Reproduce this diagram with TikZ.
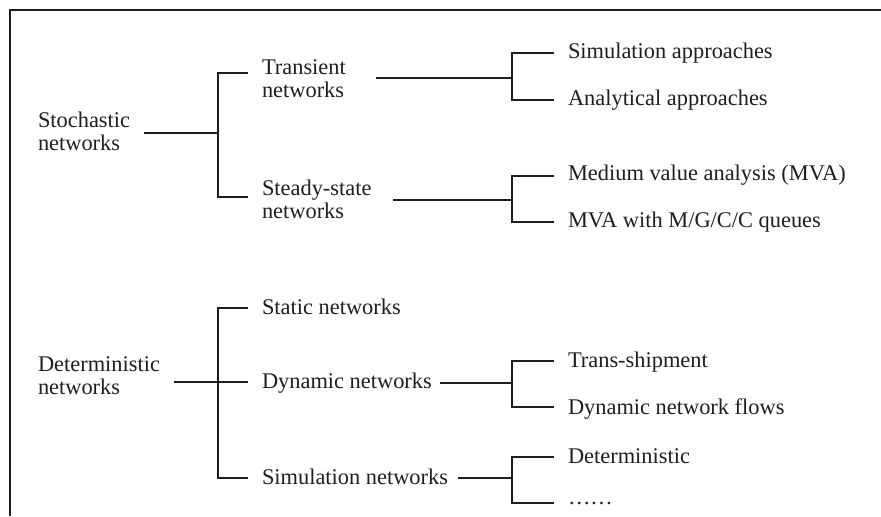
\documentclass[tikz,border=0pt]{standalone}
\usepackage{fontspec}
\setmainfont{Liberation Serif}
\usetikzlibrary{calc}
\definecolor{ink}{HTML}{1E1E1E}
\begin{document}
\begin{tikzpicture}[x=0.5pt,y=-0.5pt,
  lbl/.style={inner sep=0pt,outer xsep=7pt,outer ysep=0pt,text=ink,
    font=\fontsize{11.2}{11.5}\selectfont},
  two/.style={lbl,align=left,anchor=north west},
  one/.style={lbl,anchor=base west},
  conn/.style={draw=ink,line width=0.75pt}]
\useasboundingbox (0,0) rectangle (881,516);
\draw[ink,line width=0.9pt] (10,516) -- (10,10) -- (881,10);

% nodes
\node[two] (sto) at (24,111.7) {Stochastic\\networks};
\node[two] (tra) at (248,59.7) {Transient\\networks};
\node[two] (ste) at (248,179.7) {Steady-state\\networks};
\node[one] (sa) at (554,58) {Simulation approaches};
\node[one] (aa) at (554,105) {Analytical approaches};
\node[one] (mva) at (554,180) {Medium value analysis (MVA)};
\node[one] (mvac) at (554,227) {MVA with M/G/C/C queues};

\node[two] (det) at (24,356.7) {Deterministic\\networks};
\node[one] (st) at (248,314) {Static networks};
\node[one] (dyn) at (248,388) {Dynamic networks};
\node[one] (simn) at (248,484) {Simulation networks};
\node[one] (ts) at (554,367) {Trans-shipment};
\node[one] (dnf) at (554,414) {Dynamic network flows};
\node[one] (dt) at (554,463) {Deterministic};
\node[one] (dots) at (554,504) {\ldots\ldots};

% junctions
\coordinate (aj) at (218,133);
\coordinate (a1) at (218,73);
\coordinate (a2) at (218,197);
\coordinate (b0) at (512,78);
\coordinate (b1) at (512,53);
\coordinate (b2) at (512,100);
\coordinate (c0) at (512,200);
\coordinate (c1) at (512,176);
\coordinate (c2) at (512,222);
\coordinate (dj) at (218,382);
\coordinate (d1) at (218,308);
\coordinate (d3) at (218,478);
\coordinate (e0) at (512,383);
\coordinate (e1) at (512,361);
\coordinate (e2) at (512,407);
\coordinate (f0) at (512,478);
\coordinate (f1) at (512,457);
\coordinate (f2) at (512,503);

% connectors
\draw[conn] (sto.east|-aj) -- (aj);
\draw[conn] (tra.west|-a1) -- (a1) -- (a2) -- (ste.west|-a2);
\draw[conn] ($(tra.east|-b0)+(8pt,0)$) -- (b0);
\draw[conn] (sa.west|-b1) -- (b1) -- (b2) -- (aa.west|-b2);
\draw[conn] ($(ste.east|-c0)+(4pt,0)$) -- (c0);
\draw[conn] (mva.west|-c1) -- (c1) -- (c2) -- (mvac.west|-c2);

\draw[conn] (det.east|-dj) -- (dyn.west|-dj);
\draw[conn] (st.west|-d1) -- (d1) -- (d3) -- (simn.west|-d3);
\draw[conn] ($(dyn.east|-e0)+(-3pt,0)$) -- (e0);
\draw[conn] (ts.west|-e1) -- (e1) -- (e2) -- (dnf.west|-e2);
\draw[conn] ($(simn.east|-f0)+(-2pt,0)$) -- (f0);
\draw[conn] (dt.west|-f1) -- (f1) -- (f2) -- (dots.west|-f2);
\end{tikzpicture}
\end{document}
